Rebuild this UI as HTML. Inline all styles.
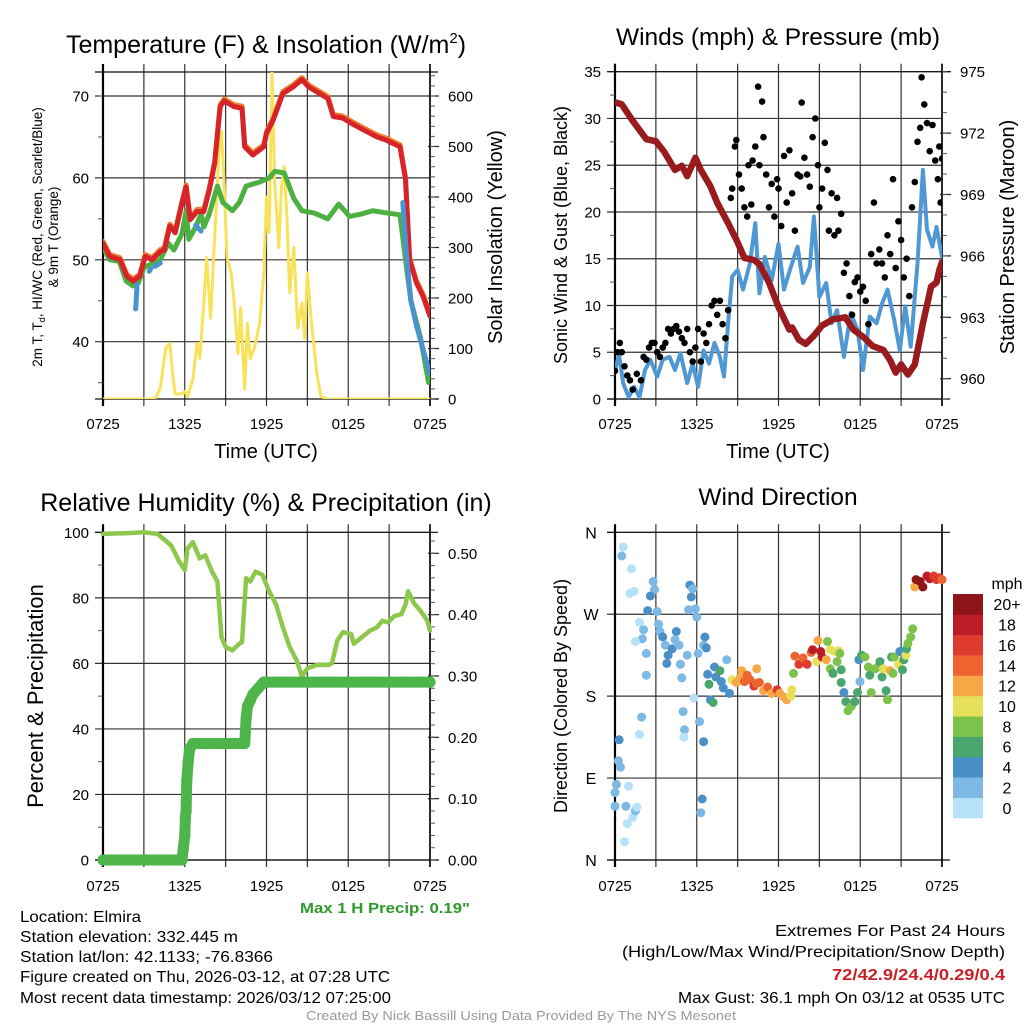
<!DOCTYPE html>
<html><head><meta charset="utf-8"><style>
html,body{margin:0;padding:0;background:#fff;}
svg{display:block;font-family:"Liberation Sans",Arial,sans-serif;}
</style></head><body>
<svg id="fig" width="1024" height="1024" viewBox="0 0 1024 1024" xmlns="http://www.w3.org/2000/svg">
<rect width="1024" height="1024" fill="#fff"/>
<defs>
<clipPath id="c1"><rect x="103" y="72" width="327" height="327"/></clipPath>
<clipPath id="c2"><rect x="615" y="71.5" width="327" height="328"/></clipPath>
<clipPath id="c3"><rect x="96" y="526" width="342" height="342"/></clipPath>
<clipPath id="c4"><rect x="608" y="526" width="342" height="342"/></clipPath>
</defs>
<!-- titles -->
<text x="266" y="53" font-size="25" text-anchor="middle">Temperature (F) &amp; Insolation (W/m<tspan font-size="15" dy="-10">2</tspan><tspan dy="10">)</tspan></text>
<text x="778" y="45" font-size="24.5" text-anchor="middle">Winds (mph) &amp; Pressure (mb)</text>
<text x="266" y="511" font-size="25" text-anchor="middle">Relative Humidity (%) &amp; Precipitation (in)</text>
<text x="778" y="505" font-size="24.5" text-anchor="middle">Wind Direction</text>
<!-- axis titles -->
<text x="266" y="458" font-size="20" text-anchor="middle">Time (UTC)</text>
<text x="778" y="458" font-size="20" text-anchor="middle">Time (UTC)</text>
<text font-size="13.5" text-anchor="middle" transform="translate(42,237) rotate(-90)">2m T, T<tspan font-size="9" dy="3">d</tspan><tspan dy="-3">, HI/WC (Red, Green, Scarlet/Blue)</tspan></text>
<text font-size="13.5" text-anchor="middle" transform="translate(58,237) rotate(-90)">&amp; 9m T (Orange)</text>
<text font-size="20" text-anchor="middle" transform="translate(502,237) rotate(-90)">Solar Insolation (Yellow)</text>
<text font-size="18" text-anchor="middle" transform="translate(567,235) rotate(-90)">Sonic Wind &amp; Gust (Blue, Black)</text>
<text font-size="20" text-anchor="middle" transform="translate(1014,237) rotate(-90)">Station Pressure (Maroon)</text>
<text font-size="22" text-anchor="middle" transform="translate(43,696) rotate(-90)">Percent &amp; Precipitation</text>
<text font-size="18" text-anchor="middle" transform="translate(567,696) rotate(-90)">Direction (Colored By Speed)</text>
<g id="layer"></g>
<!-- footer texts -->
<text x="470" y="913" font-size="15" font-weight="bold" fill="#2e9a2a" text-anchor="end" textLength="170" lengthAdjust="spacingAndGlyphs">Max 1 H Precip: 0.19"</text>
<g font-size="16">
<text x="20" y="922" textLength="121" lengthAdjust="spacingAndGlyphs">Location: Elmira</text>
<text x="20" y="942" textLength="218" lengthAdjust="spacingAndGlyphs">Station elevation: 332.445 m</text>
<text x="20" y="962" textLength="253" lengthAdjust="spacingAndGlyphs">Station lat/lon: 42.1133; -76.8366</text>
<text x="20" y="982" textLength="370" lengthAdjust="spacingAndGlyphs">Figure created on Thu, 2026-03-12, at 07:28 UTC</text>
<text x="20" y="1003" textLength="371" lengthAdjust="spacingAndGlyphs">Most recent data timestamp: 2026/03/12 07:25:00</text>
</g>
<g font-size="16" text-anchor="end">
<text x="1005" y="936" textLength="230" lengthAdjust="spacingAndGlyphs">Extremes For Past 24 Hours</text>
<text x="1005" y="957" textLength="383" lengthAdjust="spacingAndGlyphs">(High/Low/Max Wind/Precipitation/Snow Depth)</text>
<text x="1005" y="980" font-weight="bold" fill="#c8202a" textLength="173" lengthAdjust="spacingAndGlyphs">72/42.9/24.4/0.29/0.4</text>
<text x="1005" y="1003" textLength="327" lengthAdjust="spacingAndGlyphs">Max Gust: 36.1 mph On 03/12 at 0535 UTC</text>
</g>
<text x="521" y="1020" font-size="13" fill="#999" text-anchor="middle" textLength="430" lengthAdjust="spacingAndGlyphs">Created By Nick Bassill Using Data Provided By The NYS Mesonet</text>
</svg>
<script>
// ---------------- DATA ----------------
const timeTickHours = [0, 6, 12, 18, 24];
const timeTickLabels = ["0725", "1325", "1925", "0125", "0725"];
const tempTicks = [40, 50, 60, 70];
const insolTicks = [0, 100, 200, 300, 400, 500, 600];
const windTicks = [0, 5, 10, 15, 20, 25, 30, 35];
const presTicks = [960, 963, 966, 969, 972, 975];
const rhTicks = [0, 20, 40, 60, 80, 100];
const precipTicks = [0, 0.1, 0.2, 0.3, 0.4, 0.5];
const precipTickLabels = ["0.00", "0.10", "0.20", "0.30", "0.40", "0.50"];
const dirTicks = [0, 90, 180, 270, 360];
const dirTickLabels = ["N", "E", "S", "W", "N"];
const speedBinLabels = ["0", "2", "4", "6", "8", "10", "12", "14", "16", "18", "20+"];
const speedBinColors = ["#b5e2f8", "#7db9e4", "#4a8fc6", "#48a66e", "#7dc24b", "#e6e05a", "#f7a845", "#ee6431", "#de3a2d", "#bc1d27", "#8e1619"];

const tempHours = [0,0.5,1.25,1.75,2.2,2.7,3.1,3.6,4.2,4.5,4.9,5.3,5.8,6.1,6.4,6.9,7.4,7.8,8.2,8.6,8.9,9.6,10.2,10.4,11.0,11.8,12.0,12.5,13.2,13.95,14.6,15.1,15.9,16.5,16.9,17.6,18.4,19.3,20.1,20.8,21.8,22.2,22.5,23.0,23.5,24];
const tempValues = [52.0,50.4,50.0,48.0,47.4,48.0,50.4,50.0,51.0,51.2,54.1,53.3,56.9,58.9,54.9,55.9,55.9,58.5,61.8,68.7,69.4,68.7,68.5,63.8,62.8,63.8,65.4,67.1,70.3,71.1,72.0,71.1,70.3,69.7,67.5,67.3,66.5,65.7,65.0,64.6,63.8,59.8,50.0,47.2,45.5,43.1];
const dewHours = [0,0.5,1.2,1.7,2.2,2.6,3.0,3.6,4.2,4.8,5.2,5.8,6.1,6.3,6.8,7.2,7.4,7.8,8.4,8.8,9.5,10.0,10.5,11.5,12.2,12.6,13.3,14.0,14.6,15.5,16.5,17.3,18.1,19.0,19.8,20.5,21.8,22.2,22.6,23.3,23.9];
const dewValues = [51.5,50.0,49.8,47.4,46.8,47.2,49.0,49.6,50.0,52.0,51.2,53.2,56.0,52.5,54.0,55.6,54.0,55.6,59.0,57.0,56.0,57.0,59.0,59.5,60.0,60.8,60.6,57.5,56.0,55.7,55.0,56.8,55.3,55.6,56.0,55.8,55.5,50.0,45.0,40.5,35.0];
const chillHours = [2.4,2.5,null,3.4,3.5,null,3.8,4.2,null,6.8,7.2,null,22.0,22.3,22.6,23.0,23.5,24];
const chillValues = [44,47,null,48.6,48.9,null,49.2,49.6,null,54.2,53.5,null,57,50,45,42,39,36];
const insolHours = [0,3.8,4.2,4.6,4.9,5.1,5.3,5.8,6.0,6.2,6.6,6.9,7.1,7.4,7.6,7.9,8.1,8.5,8.7,8.9,9.1,9.4,9.6,9.9,10.1,10.4,10.6,10.8,11.1,11.5,11.8,12.0,12.2,12.4,12.6,12.9,13.1,13.3,13.5,13.7,14.0,14.3,14.6,14.8,15.0,15.3,15.7,16.0,16.4,24];
const insolValues = [0,0,20,100,110,50,10,10,15,5,40,110,80,190,280,160,270,480,530,420,280,250,200,90,180,20,150,80,100,150,250,400,330,650,430,300,420,460,360,210,300,140,190,120,250,150,50,5,0,0];

const presHours = [0,0.5,1.3,2.3,3.0,3.6,4.4,4.9,5.3,5.9,6.3,7.0,7.5,8.3,8.9,9.5,10.2,10.6,11.3,12.0,12.8,13.0,13.5,14.0,14.6,15.2,16.0,16.9,17.5,18.3,18.9,19.7,20.2,20.6,21.0,21.5,22.0,22.6,23.2,23.6,23.8,24];
const presValues = [973.5,973.4,972.6,971.7,971.6,971.1,970.2,970.4,969.9,970.8,970.2,969.4,968.6,967.6,966.8,965.9,965.8,965.6,964.7,963.5,962.4,962.5,961.9,961.7,962.1,962.6,962.9,963.0,962.4,962.0,961.6,961.4,960.9,960.3,960.7,960.2,960.7,962.7,964.5,964.7,965.3,965.7];
const windHours = [0,0.3,0.6,1.0,1.4,1.8,2.2,2.6,3.1,3.5,4.0,4.4,4.8,5.3,5.7,6.1,6.5,6.9,7.3,7.7,8.0,8.3,8.6,9.0,9.4,9.9,10.3,10.6,11.0,11.5,12.0,12.4,12.9,13.4,13.8,14.3,14.6,15.0,15.5,15.9,16.3,16.8,17.3,17.8,18.2,18.7,19.2,19.6,20.0,20.5,20.9,21.3,21.7,22.2,22.6,22.9,23.3,23.6,24];
const windValues = [3.1,4.7,1.7,0.2,1.3,0.2,3.1,4.2,2.4,4.2,4.5,3.1,4.9,1.7,3.8,1.3,5.2,3.8,6.0,4.5,2.4,8.1,13.1,13.8,11.7,14.5,18.8,11.3,15.2,12.7,16.6,11.7,14.1,16.3,12.4,14.1,19.5,10.9,12.4,8.1,9.5,4.5,9.2,7.4,3.1,8.8,8.1,10.2,11.7,8.4,5.2,9.9,5.6,14.5,24.5,18.1,16.3,18.4,15.2];
const gustHours = [0,0.2,0.35,0.5,0.7,0.9,1.1,1.3,1.6,1.9,2.1,2.3,2.5,2.7,2.9,3.1,3.3,3.5,3.7,3.9,4.1,4.3,4.5,4.7,4.9,5.1,5.3,5.5,5.7,5.9,6.1,6.3,6.5,6.7,6.9,7.1,7.3,7.5,7.7,7.9,8.1,8.3,8.5,8.6,8.8,8.9,9.1,9.3,9.5,9.7,9.8,10.0,10.1,10.3,10.5,10.6,10.8,10.9,11.1,11.3,11.5,11.7,11.9,12.0,12.2,12.4,12.6,12.8,13.0,13.2,13.4,13.6,13.7,13.9,14.1,14.3,14.5,14.7,14.9,15.0,15.2,15.4,15.6,15.7,15.9,16.1,16.3,16.4,16.6,16.8,17.0,17.2,17.4,17.6,17.8,18.0,18.2,18.4,18.6,18.8,19.0,19.2,19.4,19.6,19.8,20.0,20.2,20.4,20.6,20.8,21.0,21.2,21.4,21.6,21.8,22.0,22.2,22.4,22.5,22.7,22.9,23.1,23.3,23.5,23.7,23.8,23.9,24];
const gustValues = [3,5,6,5,3.5,2.5,2,1,2.7,2,4.5,4.2,5.5,6,6,5,4.5,5.5,6,7.5,7,7.5,7.8,7.2,6.5,6,7.5,5,4,5.5,7.5,4,7,6,8,10,10.5,9,10.5,8,6.5,9.5,21.5,22.5,27,27.7,24,22.5,20.5,19.5,25,20.8,25.5,27,33.4,25,31.8,28,24,20.5,23,19.5,23.5,22.5,18.5,26,21,26.6,22,18,24,23.8,31.7,25.8,24,22.7,28,30,25,20.5,22.5,27.4,24.5,18,22,17.5,21.5,18,19.8,13.5,14.5,11,9,12.5,13,11.5,12,10.5,8,15.5,21,14.5,16,14.5,13,17.5,15.5,23.5,14,19,17,13,15,11,20.5,23.2,27.5,29,34.4,31.5,29.5,26.5,29.3,25.5,23.5,27,21,25.7];

const rhHours = [0,2,3,4,5,5.6,6.0,6.2,6.6,7.1,7.5,8.0,8.4,8.7,9.0,9.5,10.0,10.2,10.5,10.8,11.2,11.7,12.2,12.7,13.2,13.7,14.2,14.6,15.0,15.7,16.5,16.8,17.2,17.6,18.2,18.4,19.0,19.6,20.1,20.5,20.9,21.4,21.9,22.2,22.4,22.8,23.3,23.8,24];
const rhValues = [99.5,99.8,100,99.5,96,91,88.5,95,97,92,93,88,85,68,65,64,66,66.5,86,85,88,87,82,78,71,65,61,56,58.5,59.5,59.5,60,67,69.5,69,66,68,70,71,73,72.5,74.5,75,78,82,78.5,76,73,70];
const precipHours = [0,1,2,3,4,5,5.8,5.9,6.0,6.05,6.1,6.15,6.25,6.35,6.6,7.5,8.5,9.5,10.4,10.5,10.6,10.8,11.0,11.4,11.8,13,14,15,16,17,18,19,20,21,22,23,24];
const precipValues = [0,0,0,0,0,0,0,0.02,0.04,0.07,0.08,0.13,0.16,0.18,0.19,0.19,0.19,0.19,0.19,0.23,0.25,0.26,0.27,0.28,0.29,0.29,0.29,0.29,0.29,0.29,0.29,0.29,0.29,0.29,0.29,0.29,0.29];

const dirHours = [0.6,0.5,1.2,1.1,1.4,1.8,2.1,2.0,1.5,2.3,2.3,2.8,2.9,2.6,2.4,3.1,3.2,3.3,3.5,3.7,3.9,3.8,4.2,4.5,4.4,4.7,4.8,4.9,5.3,5.4,5.5,5.6,5.7,5.9,6.0,6.1,6.5,6.6,6.7,6.8,6.9,7.0,7.2,7.3,7.4,7.7,7.8,7.95,8.2,8.4,5.8,5.0,5.1,5.05,6.2,6.5,6.4,6.3,0.3,0.25,0.4,0.1,0.0,0.0,0.8,1.0,0.9,0.7,1.3,1.5,1.6,1.95,1.8,
8.6,8.9,9.2,9.3,9.5,9.7,9.9,10.2,10.35,10.4,10.6,10.9,11.2,11.5,11.9,12.1,12.4,12.6,12.97,12.9,13.1,13.2,13.5,13.8,14.1,14.4,14.5,14.9,15.1,14.8,15.2,15.5,15.6,15.8,16.1,16.4,16.5,15.8,16.0,16.3,16.6,16.6,16.8,16.95,17.1,17.35,17.6,17.8,17.98,17.9,18.1,18.35,18.6,18.7,18.8,19.1,19.3,19.45,19.6,19.7,19.9,20.0,20.2,20.3,20.4,20.5,20.8,20.9,21.1,21.2,21.35,21.4,21.5,21.7,21.85,22.0,22.1,22.4,22.6,22.9,23.1,23.4,23.6,23.8,24.0];
const dirValues = [344,334,320,293,295,261,253,243,240,227,203,306,297,290,274,273,259,251,245,236,225,216,232,251,242,236,215,200,225,275,302,289,298,276,267,227,236,245,233,204,193,176,173,212,201,208,196,189,220,183,178,163,143,135,152,130,67,52,132,109,102,83,74,59,59,81,40,20,47,54,58,157,138,
198,195,201,208,196,203,198,191,194,210,195,186,190,183,187,183,179,176,187,180,205,224,215,222,215,228,231,241,229,218,223,220,240,231,229,230,227,210,205,218,209,195,184,174,164,169,174,184,196,220,225,223,212,203,184,210,212,218,201,210,186,176,208,223,205,223,215,229,209,220,225,232,238,245,254,300,308,306,300,312,309,312,308,310,308];
const dirSpeeds = [1,2,1,1,1,1,2,2,1,2,2,3,3,4,4,2,3,3,4,3,4,4,4,4,3,3,2,2,2,2,4,4,3,2,2,3,2,4,4,4,6,4,6,5,4,6,4,4,2,4,1,2,2,1,3,4,4,3,4,2,2,3,3,3,3,1,1,0,1,3,1,2,1,
10,12,13,12,14,14,15,16,14,12,14,13,14,12,17,13,12,12,10,10,8,14,16,14,17,14,19,12,18,10,18,12,8,10,11,10,8,8,6,8,6,6,4,6,8,8,6,6,3,4,6,8,8,6,8,8,8,6,6,10,6,8,12,6,8,8,10,4,6,6,10,6,8,8,8,12,20,20,20,18,18,17,16,16,14];

// ---------------- HELPERS ----------------
const NS = "http://www.w3.org/2000/svg";
const layer = document.getElementById('layer');
function mk(tag, attrs, parent) {
  const e = document.createElementNS(NS, tag);
  for (const k in attrs) e.setAttribute(k, attrs[k]);
  (parent || layer).appendChild(e);
  return e;
}
function lin(d0, d1, r0, r1) { return v => r0 + (v - d0) * (r1 - r0) / (d1 - d0); }
function pathFrom(xs, ys, sx, sy) {
  let d = "", pen = false;
  for (let i = 0; i < xs.length; i++) {
    if (xs[i] === null || ys[i] === null) { pen = false; continue; }
    d += (pen ? "L" : "M") + sx(xs[i]).toFixed(1) + "," + sy(ys[i]).toFixed(1);
    pen = true;
  }
  return d;
}

function panelFrame(name, x0, x1, yTop, yBot, sx, leftTicks, sy, leftLabels, rightTicks, syR, rightLabels, labelY) {
  const g = mk('g', {});
  
  
  for (let h = 0; h <= 24; h += 3) {
    const x = sx(h);
    const ln = mk('line', {x1: x, x2: x, y1: yTop - 8, y2: yBot + 7, stroke: '#333', 'stroke-width': 1.2}, g);
    
    
  }
  leftTicks.forEach((v, i) => {
    const y = sy(v);
    const ln = mk('line', {x1: x0 - 8, x2: x1, y1: y, y2: y, stroke: '#333', 'stroke-width': 1.2}, g);
    
    
    if (leftLabels) {
      const t = mk('text', {x: x0 - 14, y: y + 5.5, 'font-size': 15, 'text-anchor': 'end'}, g);
      
      
      t.textContent = leftLabels[i];
    }
  });
  if (rightTicks) {
    rightTicks.forEach((v, i) => {
      const y = syR(v);
      const ln = mk('line', {x1: x1 - 2, x2: x1 + 9, y1: y, y2: y, stroke: '#222', 'stroke-width': 1.2}, g);
      
      
      const t = mk('text', {x: x1 + 18, y: y + 5.5, 'font-size': 15}, g);
      
      
      t.textContent = rightLabels[i];
    });
  }
  mk('line', {x1: x0 - 8, x2: x1 + 8, y1: yTop, y2: yTop, stroke: '#111', 'stroke-width': 1.2}, g);
  mk('line', {x1: x0 - 8, x2: x1 + 8, y1: yBot, y2: yBot, stroke: '#111', 'stroke-width': 1.3}, g);
  mk('line', {x1: x0, x2: x0, y1: yTop - 8, y2: yBot + 7, stroke: '#000', 'stroke-width': 2.2}, g);
  mk('line', {x1: x1, x2: x1, y1: yTop - 8, y2: yBot + 7, stroke: '#000', 'stroke-width': 1.6}, g);
  timeTickHours.forEach((h, i) => {
    const t = mk('text', {x: sx(h), y: labelY, 'font-size': 15, 'text-anchor': 'middle'}, g);
    
    
    t.textContent = timeTickLabels[i];
  });
  return g;
}
function minorTicks(g, x, from, to, step, sy, len) {
  for (let v = from; v <= to + 1e-9; v += step) {
    const y = sy(v);
    mk('line', {x1: x, x2: x + len, y1: y, y2: y, stroke: '#555', 'stroke-width': 1}, g);
  }
}
function line(name, xs, ys, sx, sy, color, w, clip) {
  const p = mk('path', {d: pathFrom(xs, ys, sx, sy), fill: 'none', stroke: color, 'stroke-width': w, 'stroke-linejoin': 'round', 'stroke-linecap': 'round', 'clip-path': 'url(#' + clip + ')'});
  
  
  return p;
}

// ---------------- PANEL 1: Temperature ----------------
const x1s = lin(0, 24, 103, 430);
const yT = lin(70, 40, 96, 341.7);
const yW = lin(0, 600, 399, 96);
const g1 = panelFrame('temperature', 103, 430, 72, 399, x1s, tempTicks, yT, tempTicks.map(String), insolTicks, yW, insolTicks.map(String), 429);
minorTicks(g1, 430, 0, 640, 20, yW, 5);
minorTicks(g1, 98, 35, 70, 5, yT, 5);
line('insolation-line', insolHours, insolValues, x1s, yW, '#f8e25a', 3, 'c1');
line('temp-9m-line', tempHours, tempValues.map(v => v + 0.25), x1s, yT, '#f07d2c', 5, 'c1');
line('dewpoint-line', dewHours, dewValues, x1s, yT, '#4cb140', 5, 'c1');
line('temperature-line', tempHours, tempValues, x1s, yT, '#d7232a', 5, 'c1');
line('wind-chill-line', chillHours, chillValues, x1s, yT, '#4b93cf', 5, 'c1');

// ---------------- PANEL 2: Winds ----------------
const x2s = lin(0, 24, 615, 942);
const yM = lin(0, 35, 399, 71.7);
const yP = lin(975, 960, 71.7, 378.7);
const g2 = panelFrame('winds', 615, 942, 71.7, 399, x2s, windTicks, yM, windTicks.map(String), presTicks, yP, presTicks.map(String), 429);
minorTicks(g2, 942, 959, 975, 1, yP, 5);
minorTicks(g2, 610, 2.5, 32.5, 5, yM, 5);
line('sonic-wind-line', windHours, windValues, x2s, yM, '#4f98d3', 4, 'c2');
gustHours.forEach((h, i) => {
  const c = mk('circle', {cx: x2s(h).toFixed(1), cy: yM(gustValues[i]).toFixed(1), r: 3.3, fill: '#000', 'clip-path': 'url(#c2)'});
  
  
});
line('pressure-line', presHours, presValues, x2s, yP, '#991b1e', 6.5, 'c2');

// ---------------- PANEL 3: RH & Precip ----------------
const x3s = lin(0, 24, 103, 430);
const yRH = lin(0, 100, 860, 532.3);
const yIn = lin(0, 0.5, 860, 553.3);
const g3 = panelFrame('humidity', 103, 430, 532.3, 860, x3s, rhTicks, yRH, rhTicks.map(String), precipTicks, yIn, precipTickLabels, 891);
minorTicks(g3, 430, 0, 0.53, 0.02, yIn, 5);
minorTicks(g3, 98, 10, 90, 20, yRH, 5);
line('relative-humidity-line', rhHours, rhValues, x3s, yRH, '#8dc84c', 4.5, 'c3');
line('precipitation-band', precipHours, precipValues, x3s, yIn, '#4db54a', 11, 'c3');
precipHours.forEach((h, i) => {
  const c = mk('circle', {cx: x3s(h).toFixed(1), cy: yIn(precipValues[i]).toFixed(1), r: 5.6, fill: '#4db54a', 'clip-path': 'url(#c3)'});
  
  
});

// ---------------- PANEL 4: Wind Direction ----------------
const x4s = lin(0, 24, 615, 942);
const yD = lin(0, 360, 860, 532.3);
const g4 = panelFrame('wind-direction', 615, 942, 532.3, 860, x4s, dirTicks, yD, null, null, null, null, 891);
dirTicks.forEach((v, i) => {
  const t = mk('text', {x: 591, y: yD(v) + 6, 'font-size': 16, 'text-anchor': 'middle'}, g4);
  
  
  t.textContent = dirTickLabels[i];
});
dirHours.forEach((h, i) => {
  const bin = Math.min(10, Math.floor(dirSpeeds[i] / 2));
  const c = mk('circle', {cx: x4s(h).toFixed(1), cy: yD(dirValues[i]).toFixed(1), r: 4.5, fill: speedBinColors[bin], 'clip-path': 'url(#c4)'});
  
  
});
const cb = mk('g', {});


const cbTop = 594, cbBot = 818, nb = speedBinLabels.length, bh = (cbBot - cbTop) / nb;
speedBinLabels.forEach((lab, i) => {
  const y = cbBot - (i + 1) * bh;
  const r = mk('rect', {x: 953, y: y.toFixed(1), width: 30, height: (bh + 0.3).toFixed(1), fill: speedBinColors[i]}, cb);
  
  
  const t = mk('text', {x: 1007, y: (y + bh / 2 + 6).toFixed(1), 'font-size': 16, 'text-anchor': 'middle'}, cb);
  
  
  t.textContent = lab;
});
const mu = mk('text', {x: 1007, y: 589, 'font-size': 16, 'text-anchor': 'middle'}, cb);


mu.textContent = 'mph';
</script>
</body></html>
